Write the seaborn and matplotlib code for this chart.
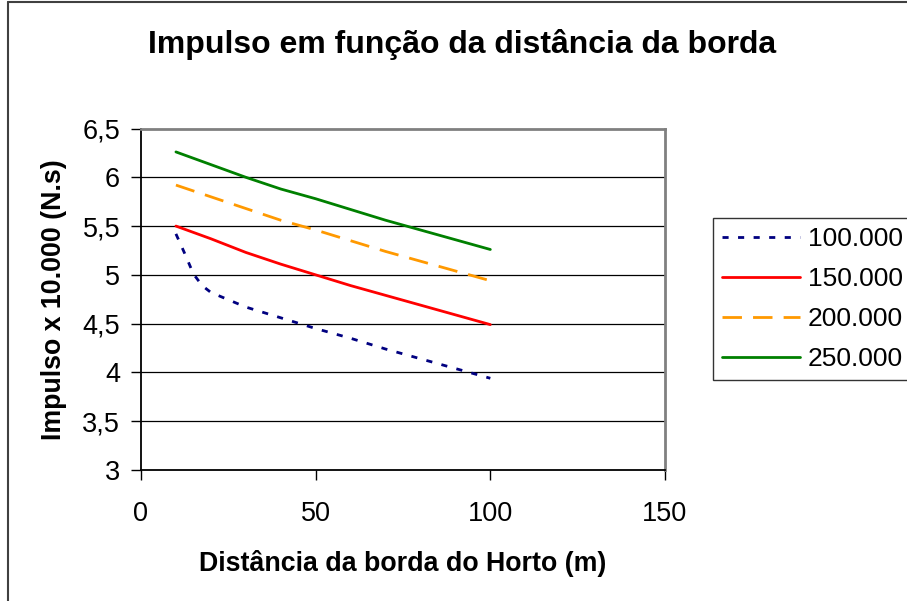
import matplotlib
matplotlib.use("Agg")
import matplotlib.pyplot as plt
from matplotlib.lines import Line2D
import seaborn as sns
import pandas as pd

# ---- data ----
title = "Impulso em função da distância da borda"
x_label = "Distância da borda do Horto (m)"
y_label = "Impulso x 10.000 (N.s)"

series_names = ["100.000", "150.000", "200.000", "250.000"]

x_100 = [10, 12.5, 15, 17.5, 20, 30, 40, 50, 60, 70, 80, 90, 100]
y_100 = [5.42, 5.22, 5.01, 4.89, 4.82, 4.67, 4.56, 4.45, 4.35, 4.24, 4.14, 4.04, 3.94]

x_150 = [10, 20, 30, 40, 50, 60, 70, 80, 90, 100]
y_150 = [5.50, 5.37, 5.23, 5.11, 5.00, 4.89, 4.79, 4.69, 4.59, 4.49]

x_200 = [10, 20, 30, 40, 50, 60, 70, 80, 90, 100]
y_200 = [5.92, 5.80, 5.68, 5.56, 5.46, 5.35, 5.24, 5.14, 5.04, 4.94]

x_250 = [10, 20, 30, 40, 50, 60, 70, 80, 90, 100]
y_250 = [6.26, 6.13, 6.00, 5.88, 5.78, 5.67, 5.56, 5.46, 5.36, 5.26]

x_ticks = [0, 50, 100, 150]
x_tick_labels = ["0", "50", "100", "150"]
y_ticks = [3, 3.5, 4, 4.5, 5, 5.5, 6, 6.5]
y_tick_labels = ["3", "3,5", "4", "4,5", "5", "5,5", "6", "6,5"]

# ---- styles ----
colors = {"100.000": "#000080", "150.000": "#FF0000",
          "200.000": "#FF9900", "250.000": "#008000"}
styles = {"100.000": (0, (2.2, 3.4)), "150.000": "-",
          "200.000": (0, (7.0, 4.0)), "250.000": "-"}

sns.set_theme(style="white")
plt.rcParams["font.family"] = ["Liberation Sans", "DejaVu Sans"]

W, H = 907, 601
fig = plt.figure(figsize=(W / 100, H / 100), dpi=100)
fig.patch.set_facecolor("white")

L, R, T, B = 141, 665, 128.5, 470
ax = fig.add_axes([L / W, 1 - B / H, (R - L) / W, (B - T) / H])
ax.set_facecolor("white")

data = {
    "100.000": (x_100, y_100),
    "150.000": (x_150, y_150),
    "200.000": (x_200, y_200),
    "250.000": (x_250, y_250),
}

for name in series_names:
    xs, ys = data[name]
    df = pd.DataFrame({"x": xs, "y": ys})
    sns.lineplot(data=df, x="x", y="y", ax=ax, color=colors[name],
                 linestyle=styles[name], linewidth=2.0, label=name,
                 legend=False, errorbar=None)

ax.set_xlim(0, 150)
ax.set_ylim(3, 6.5)
ax.set_xticks(x_ticks)
ax.set_xticklabels(x_tick_labels)
ax.set_yticks(y_ticks)
ax.set_yticklabels(y_tick_labels)

ax.grid(False)
for yv in y_ticks[1:-1]:
    ax.axhline(yv, color="black", linewidth=0.9, zorder=0)

for side in ["top", "right"]:
    ax.spines[side].set_color("#808080")
    ax.spines[side].set_linewidth(2.0)
for side in ["left", "bottom"]:
    ax.spines[side].set_color("#000000")
    ax.spines[side].set_linewidth(1.3)

ax.tick_params(axis="both", which="major", direction="out", length=7,
               width=1.0, color="black", labelsize=19.5, labelcolor="black",
               left=True, bottom=True)
ax.tick_params(axis="y", pad=8)
ax.tick_params(axis="x", pad=15)

ax.set_xlabel(x_label, fontsize=19.3, fontweight="bold", labelpad=17)
ax.set_ylabel(y_label, fontsize=19.3, fontweight="bold", labelpad=11)
ax.xaxis.label.set_color("black")
ax.yaxis.label.set_color("black")

fig.text(462 / W, 1 - 45 / H, title, ha="center", va="center",
         fontsize=23, fontweight="bold", color="black")

handles = ax.get_lines()[:len(series_names)]
leg = fig.legend(handles=handles, labels=series_names, loc="upper left",
                 bbox_to_anchor=(713 / W, 1 - 218 / H), borderaxespad=0,
                 frameon=True, fancybox=False, fontsize=19,
                 handlelength=2.95, handletextpad=0.3, borderpad=0.35,
                 labelspacing=0.6)
leg.get_frame().set_edgecolor("black")
leg.get_frame().set_linewidth(1.0)
for t in leg.get_texts():
    t.set_color("black")

# outer chart border (cropped at right/bottom)
fig.add_artist(Line2D([8 / W, 8 / W], [0, 1 - 2 / H], transform=fig.transFigure,
                      color="#404040", linewidth=1.5))
fig.add_artist(Line2D([8 / W, 1], [1 - 2 / H, 1 - 2 / H], transform=fig.transFigure,
                      color="#404040", linewidth=1.5))

fig.savefig("out.png", dpi=100)
